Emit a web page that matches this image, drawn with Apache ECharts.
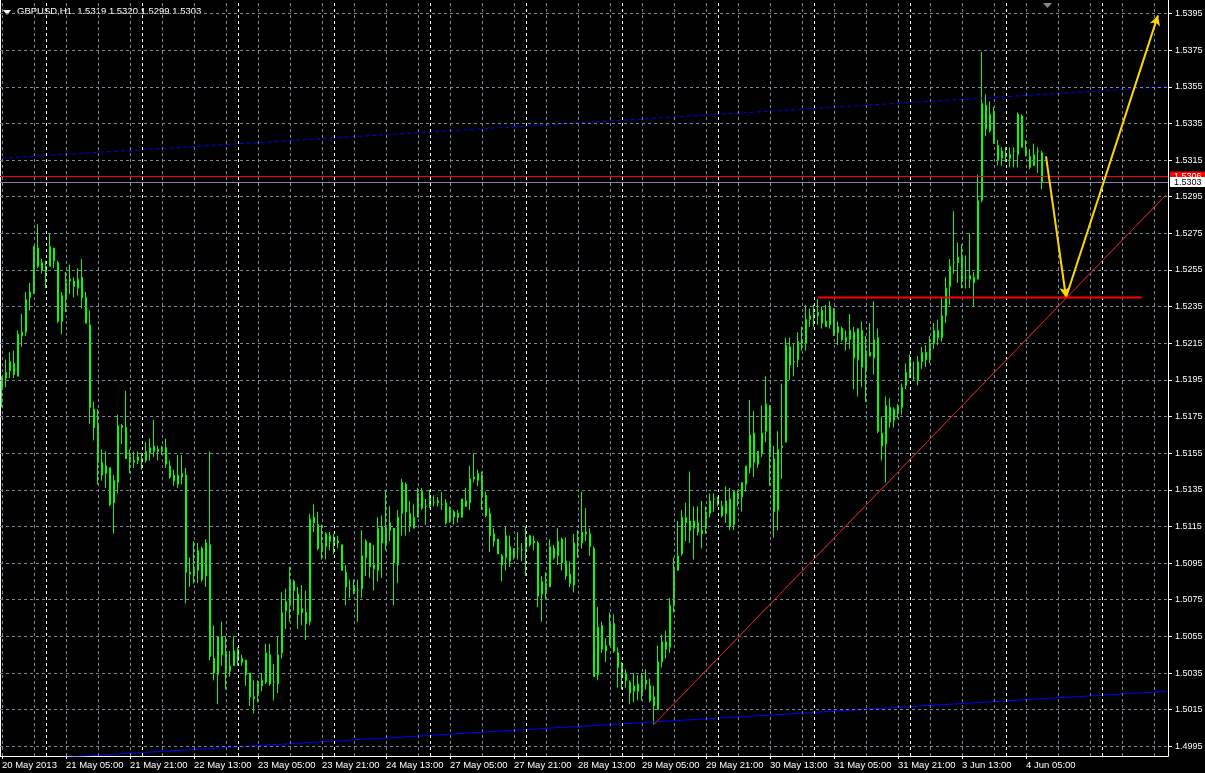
<!DOCTYPE html>
<html><head><meta charset="utf-8">
<script src="https://cdn.jsdelivr.net/npm/echarts@6/dist/echarts.min.js"></script>
<style>html,body{margin:0;padding:0;background:#000;}#c{width:1205px;height:773px;}</style>
</head><body><div id="c"></div>
<script>
const symbolName = 'GBPUSD,H1';
const opens = [1.5191,1.5196,1.5200,1.5204,1.5197,1.5219,1.5221,1.5240,1.5242,1.5267,
1.5259,1.5254,1.5257,1.5267,1.5259,1.5227,1.5240,1.5249,1.5249,1.5245,
1.5251,1.5240,1.5225,1.5179,1.5170,1.5150,1.5148,1.5147,1.5140,1.5139,
1.5170,1.5169,1.5153,1.5150,1.5151,1.5152,1.5151,1.5155,1.5156,1.5157,
1.5156,1.5158,1.5148,1.5143,1.5138,1.5142,1.5143,1.5090,1.5089,1.5091,
1.5103,1.5088,1.5105,1.5043,1.5034,1.5055,1.5046,1.5036,1.5039,1.5048,
1.5043,1.5042,1.5035,1.5022,1.5023,1.5028,1.5030,1.5045,1.5030,1.5029,
1.5046,1.5069,1.5073,1.5085,1.5078,1.5070,1.5068,1.5063,1.5120,1.5116,
1.5104,1.5104,1.5110,1.5106,1.5107,1.5105,1.5090,1.5081,1.5082,1.5080,
1.5081,1.5098,1.5106,1.5094,1.5091,1.5115,1.5105,1.5117,1.5114,1.5094,
1.5122,1.5138,1.5122,1.5114,1.5120,1.5134,1.5126,1.5126,1.5128,1.5129,
1.5127,1.5128,1.5118,1.5123,1.5122,1.5120,1.5129,1.5128,1.5142,1.5140,
1.5143,1.5132,1.5122,1.5111,1.5108,1.5099,1.5098,1.5104,1.5098,1.5103,
1.5102,1.5103,1.5110,1.5106,1.5106,1.5078,1.5080,1.5082,1.5103,1.5099,
1.5108,1.5096,1.5089,1.5083,1.5107,1.5106,1.5112,1.5111,1.5103,1.5034,
1.5061,1.5047,1.5050,1.5062,1.5046,1.5039,1.5035,1.5030,1.5025,1.5025,
1.5024,1.5031,1.5028,1.5022,1.5015,1.5041,1.5052,1.5049,1.5072,1.5091,
1.5100,1.5117,1.5118,1.5114,1.5117,1.5113,1.5114,1.5122,1.5130,1.5131,
1.5126,1.5122,1.5130,1.5116,1.5133,1.5131,1.5138,1.5147,1.5166,1.5156,
1.5155,1.5167,1.5181,1.5152,1.5124,1.5158,1.5161,1.5213,1.5205,1.5206,
1.5217,1.5215,1.5228,1.5231,1.5230,1.5233,1.5227,1.5225,1.5234,1.5224,
1.5223,1.5218,1.5217,1.5221,1.5206,1.5222,1.5201,1.5210,1.5207,1.5218,
1.5166,1.5160,1.5180,1.5173,1.5178,1.5180,1.5192,1.5207,1.5196,1.5195,
1.5205,1.5210,1.5206,1.5215,1.5222,1.5218,1.5230,1.5246,1.5259,1.5259,
1.5263,1.5251,1.5250,1.5248,1.5250,1.5293,1.5345,1.5340,1.5340,1.5323,
1.5316,1.5318,1.5318,1.5320,1.5318,1.5339,1.5321,1.5317,1.5312,1.5320,
1.5319];
const highs = [1.5197,1.5206,1.5210,1.5211,1.5222,1.5231,1.5243,1.5248,1.5268,1.5280,
1.5261,1.5260,1.5275,1.5267,1.5260,1.5243,1.5254,1.5258,1.5251,1.5256,
1.5261,1.5243,1.5233,1.5183,1.5179,1.5157,1.5156,1.5147,1.5143,1.5176,
1.5171,1.5189,1.5157,1.5156,1.5156,1.5155,1.5161,1.5163,1.5173,1.5159,
1.5159,1.5163,1.5151,1.5146,1.5154,1.5154,1.5147,1.5098,1.5107,1.5106,
1.5104,1.5108,1.5156,1.5061,1.5055,1.5063,1.5055,1.5047,1.5055,1.5049,
1.5045,1.5042,1.5035,1.5031,1.5031,1.5035,1.5051,1.5051,1.5040,1.5055,
1.5079,1.5081,1.5093,1.5086,1.5082,1.5083,1.5080,1.5122,1.5127,1.5123,
1.5116,1.5112,1.5112,1.5111,1.5110,1.5105,1.5094,1.5086,1.5086,1.5086,
1.5113,1.5108,1.5106,1.5105,1.5120,1.5121,1.5135,1.5126,1.5114,1.5124,
1.5141,1.5139,1.5129,1.5127,1.5136,1.5136,1.5130,1.5135,1.5132,1.5131,
1.5134,1.5130,1.5126,1.5124,1.5124,1.5130,1.5136,1.5148,1.5155,1.5146,
1.5145,1.5134,1.5125,1.5114,1.5108,1.5100,1.5115,1.5110,1.5103,1.5112,
1.5106,1.5115,1.5110,1.5110,1.5107,1.5088,1.5090,1.5108,1.5105,1.5114,
1.5109,1.5109,1.5096,1.5111,1.5113,1.5134,1.5125,1.5114,1.5104,1.5071,
1.5063,1.5054,1.5068,1.5067,1.5049,1.5041,1.5037,1.5031,1.5035,1.5034,
1.5035,1.5037,1.5032,1.5028,1.5050,1.5056,1.5058,1.5076,1.5098,1.5118,
1.5124,1.5128,1.5145,1.5126,1.5126,1.5129,1.5126,1.5133,1.5133,1.5131,
1.5129,1.5137,1.5136,1.5135,1.5135,1.5139,1.5148,1.5184,1.5178,1.5156,
1.5181,1.5197,1.5181,1.5159,1.5167,1.5193,1.5218,1.5218,1.5215,1.5221,
1.5224,1.5236,1.5234,1.5236,1.5239,1.5235,1.5236,1.5238,1.5234,1.5227,
1.5224,1.5222,1.5231,1.5224,1.5223,1.5227,1.5219,1.5226,1.5238,1.5223,
1.5175,1.5186,1.5185,1.5180,1.5182,1.5193,1.5204,1.5209,1.5205,1.5208,
1.5213,1.5214,1.5219,1.5226,1.5228,1.5240,1.5251,1.5261,1.5287,1.5270,
1.5269,1.5263,1.5275,1.5254,1.5307,1.5374,1.5351,1.5347,1.5344,1.5326,
1.5322,1.5322,1.5322,1.5322,1.5341,1.5340,1.5326,1.5321,1.5324,1.5322,
1.5320];
const lows = [1.5180,1.5191,1.5196,1.5196,1.5197,1.5213,1.5219,1.5233,1.5242,1.5256,
1.5253,1.5245,1.5257,1.5256,1.5226,1.5220,1.5232,1.5242,1.5240,1.5241,
1.5234,1.5226,1.5171,1.5162,1.5138,1.5140,1.5136,1.5126,1.5111,1.5133,
1.5160,1.5152,1.5144,1.5147,1.5149,1.5146,1.5150,1.5151,1.5153,1.5151,
1.5154,1.5147,1.5141,1.5137,1.5136,1.5138,1.5073,1.5082,1.5084,1.5084,
1.5085,1.5082,1.5042,1.5031,1.5018,1.5039,1.5026,1.5033,1.5039,1.5039,
1.5039,1.5028,1.5017,1.5013,1.5019,1.5025,1.5029,1.5028,1.5020,1.5024,
1.5043,1.5059,1.5063,1.5069,1.5059,1.5061,1.5053,1.5061,1.5112,1.5102,
1.5097,1.5097,1.5102,1.5100,1.5103,1.5091,1.5072,1.5076,1.5078,1.5063,
1.5076,1.5088,1.5087,1.5080,1.5085,1.5087,1.5102,1.5107,1.5072,1.5084,
1.5110,1.5110,1.5112,1.5114,1.5120,1.5124,1.5116,1.5125,1.5126,1.5126,
1.5124,1.5116,1.5117,1.5116,1.5117,1.5120,1.5126,1.5124,1.5139,1.5137,
1.5124,1.5120,1.5101,1.5104,1.5100,1.5085,1.5091,1.5093,1.5097,1.5097,
1.5096,1.5088,1.5104,1.5102,1.5071,1.5063,1.5075,1.5082,1.5097,1.5094,
1.5091,1.5086,1.5082,1.5079,1.5098,1.5103,1.5107,1.5099,1.5033,1.5031,
1.5046,1.5041,1.5050,1.5046,1.5027,1.5026,1.5027,1.5018,1.5019,1.5020,
1.5020,1.5026,1.5019,1.5007,1.5015,1.5038,1.5043,1.5046,1.5068,1.5091,
1.5099,1.5107,1.5106,1.5097,1.5110,1.5103,1.5111,1.5120,1.5123,1.5126,
1.5120,1.5117,1.5113,1.5113,1.5126,1.5123,1.5134,1.5144,1.5142,1.5147,
1.5153,1.5161,1.5137,1.5109,1.5113,1.5141,1.5161,1.5195,1.5197,1.5202,
1.5211,1.5211,1.5224,1.5224,1.5225,1.5223,1.5224,1.5223,1.5219,1.5214,
1.5216,1.5211,1.5212,1.5190,1.5186,1.5191,1.5183,1.5208,1.5198,1.5166,
1.5151,1.5139,1.5169,1.5169,1.5174,1.5176,1.5190,1.5196,1.5195,1.5192,
1.5201,1.5202,1.5204,1.5212,1.5214,1.5216,1.5226,1.5236,1.5253,1.5248,
1.5245,1.5245,1.5245,1.5235,1.5250,1.5292,1.5328,1.5330,1.5324,1.5312,
1.5312,1.5314,1.5311,1.5311,1.5311,1.5322,1.5317,1.5310,1.5312,1.5308,
1.5299];
const closes = [1.5196,1.5199,1.5205,1.5198,1.5220,1.5221,1.5239,1.5243,1.5268,1.5257,
1.5255,1.5257,1.5268,1.5260,1.5227,1.5241,1.5248,1.5250,1.5246,1.5250,
1.5240,1.5226,1.5180,1.5169,1.5150,1.5143,1.5144,1.5127,1.5128,1.5170,
1.5169,1.5152,1.5150,1.5151,1.5153,1.5151,1.5156,1.5158,1.5159,1.5156,
1.5157,1.5149,1.5142,1.5140,1.5143,1.5144,1.5090,1.5089,1.5091,1.5102,
1.5086,1.5106,1.5044,1.5035,1.5055,1.5045,1.5035,1.5039,1.5047,1.5042,
1.5041,1.5034,1.5022,1.5021,1.5029,1.5031,1.5046,1.5029,1.5030,1.5045,
1.5068,1.5074,1.5086,1.5080,1.5067,1.5068,1.5062,1.5119,1.5117,1.5103,
1.5103,1.5111,1.5107,1.5108,1.5106,1.5091,1.5082,1.5081,1.5079,1.5080,
1.5099,1.5107,1.5093,1.5092,1.5114,1.5106,1.5115,1.5113,1.5095,1.5120,
1.5139,1.5123,1.5115,1.5120,1.5133,1.5125,1.5126,1.5131,1.5128,1.5128,
1.5127,1.5117,1.5124,1.5120,1.5120,1.5130,1.5126,1.5141,1.5141,1.5144,
1.5131,1.5121,1.5110,1.5107,1.5100,1.5094,1.5110,1.5096,1.5103,1.5103,
1.5102,1.5109,1.5105,1.5107,1.5077,1.5085,1.5084,1.5104,1.5098,1.5107,
1.5095,1.5088,1.5084,1.5106,1.5107,1.5112,1.5111,1.5104,1.5033,1.5060,
1.5048,1.5050,1.5063,1.5047,1.5038,1.5034,1.5031,1.5024,1.5028,1.5029,
1.5032,1.5029,1.5020,1.5017,1.5041,1.5052,1.5048,1.5072,1.5091,1.5099,
1.5120,1.5120,1.5113,1.5118,1.5112,1.5111,1.5123,1.5129,1.5130,1.5127,
1.5121,1.5129,1.5115,1.5134,1.5130,1.5139,1.5148,1.5165,1.5150,1.5149,
1.5166,1.5182,1.5153,1.5123,1.5157,1.5159,1.5214,1.5203,1.5205,1.5216,
1.5215,1.5228,1.5230,1.5231,1.5232,1.5226,1.5224,1.5235,1.5220,1.5221,
1.5217,1.5216,1.5222,1.5207,1.5223,1.5202,1.5211,1.5208,1.5217,1.5167,
1.5159,1.5181,1.5172,1.5179,1.5181,1.5191,1.5199,1.5197,1.5196,1.5205,
1.5210,1.5206,1.5215,1.5222,1.5218,1.5230,1.5245,1.5257,1.5259,1.5262,
1.5250,1.5251,1.5252,1.5251,1.5293,1.5346,1.5332,1.5331,1.5324,1.5315,
1.5320,1.5317,1.5316,1.5320,1.5340,1.5322,1.5318,1.5311,1.5318,1.5320,
1.5303];

// time axis: one slot per H1 bar, incl. empty future slots (chart shift)
const slotCount = 292;
const timeTicks = ['20 May 2013','21 May 05:00','21 May 21:00','22 May 13:00','23 May 05:00',
  '23 May 21:00','24 May 13:00','27 May 05:00','27 May 21:00','28 May 13:00','29 May 05:00',
  '29 May 21:00','30 May 13:00','31 May 05:00','31 May 21:00','3 Jun 13:00','4 Jun 05:00'];
const tickStep = 16;
const gridStep = 8;
const daySeparators = [11,35,59,83,107,131,155,179,203,227,251,275];
const priceTicks = [1.4995,1.5015,1.5035,1.5055,1.5075,1.5095,1.5115,1.5135,1.5155,1.5175,
  1.5195,1.5215,1.5235,1.5255,1.5275,1.5295,1.5315,1.5335,1.5355,1.5375,1.5395];
const yMin = 1.49897, yMax = 1.54024;
const bidPrice = 1.5303;
const askPrice = 1.5306;

// drawn objects: [bar index, price]
const channelUpper = [[0,1.5316],[291,1.5355]];
const channelLower = [[0,1.4987],[291,1.5025]];
const trendLine = [[163,1.5007],[291,1.5296]];
const supportLine = [[204,1.5240],[285,1.5240]];
const arrowDown = [[261,1.5317],[266,1.5240]];
const arrowUp = [[266,1.5240],[289,1.5394]];

const FONT = 'Liberation Sans';
const slots = Array.from({length: slotCount}, (_, i) => i);
const candles = opens.map((o, i) => [o, closes[i], lows[i], highs[i]]);
const n = opens.length;
const showTick = (i) => i % tickStep === 0 && i / tickStep < timeTicks.length;
const gridCols = slots.filter(i => i % gridStep === 0);

const chart = echarts.init(document.getElementById('c'), null, {renderer: 'canvas', width: 1205, height: 773});
chart.setOption({
  backgroundColor: '#000000',
  animation: false,
  grid: {left: 0, right: 37, top: 0, bottom: 17, containLabel: false, outerBoundsMode: 'none'},
  xAxis: {
    type: 'category', data: slots, boundaryGap: true,
    axisLine: {show: true, lineStyle: {color: '#ffffff', width: 1}},
    axisTick: {show: true, alignWithLabel: true, interval: (i) => showTick(i), length: 3, lineStyle: {color: '#ffffff'}},
    axisLabel: {show: true, interval: (i) => showTick(i), formatter: (v, i) => showTick(i) ? timeTicks[i / tickStep] : '',
      color: '#ffffff', fontSize: 9.5, fontFamily: FONT, align: 'left', margin: 4},
    splitLine: {show: false}
  },
  yAxis: [{
    type: 'value', position: 'right', min: yMin, max: yMax, scale: true,
    axisLine: {show: true, lineStyle: {color: '#ffffff'}},
    axisTick: {show: true, customValues: priceTicks, length: 4, lineStyle: {color: '#ffffff'}},
    axisLabel: {show: true, customValues: priceTicks, formatter: (v) => v.toFixed(4), color: '#ffffff', fontSize: 9, fontFamily: FONT, margin: 7},
    splitLine: {show: false}
  }, {
    type: 'value', position: 'left', min: yMin, max: yMax, scale: true,
    axisLine: {show: true, onZero: false, lineStyle: {color: '#ffffff'}},
    axisTick: {show: false}, axisLabel: {show: false}, splitLine: {show: false}
  }],
  graphic: [
    {type: 'polygon', shape: {points: [[3, 10], [11, 10], [7, 15]]}, style: {fill: '#ffffff'}},
    {type: 'text', left: 17, top: 6, style: {text: symbolName + '  ' + [opens[n-1], highs[n-1], lows[n-1], closes[n-1]].map(v => v.toFixed(4)).join(' '),
      fill: '#ffffff', font: '9.5px "' + FONT + '"'}},
    {type: 'polygon', shape: {points: [[1043, 3], [1052, 3], [1047.5, 8]]}, style: {fill: '#8a8a8a'}}
  ],
  series: [
    {type: 'line', name: 'grid', data: [], z: 1, silent: true,
      markLine: {silent: true, precision: 6, symbol: ['none', 'none'], animation: false, label: {show: false},
        lineStyle: {color: '#778899', width: 1, type: [3, 3]},
        data: priceTicks.map(p => ({yAxis: p})).concat(gridCols.map(i => ({xAxis: i})))}},
    {type: 'line', name: 'separators', data: [], z: 1, silent: true,
      markLine: {silent: true, precision: 6, symbol: ['none', 'none'], animation: false, label: {show: false},
        lineStyle: {color: '#ffffff', width: 1, type: [3, 3]},
        data: daySeparators.map(i => ({xAxis: i}))}},
    {type: 'candlestick', name: symbolName, data: candles, z: 2, barWidth: 2, silent: true,
      itemStyle: {color: '#000000', color0: '#ffffff', borderColor: '#00ff00', borderColor0: '#00ff00', borderColorDoji: '#00ff00', borderWidth: 1}},
    {type: 'line', name: 'bidask', data: [], z: 3, silent: true,
      markLine: {silent: true, precision: 6, symbol: ['none', 'none'], animation: false,
        data: [
          {yAxis: askPrice, lineStyle: {color: '#ff0000', width: 1, type: 'solid'},
            label: {show: true, position: 'end', distance: 2, formatter: askPrice.toFixed(4), color: '#ffffff', backgroundColor: '#ff0000',
              padding: [1, 8, 0, 4], fontSize: 9, fontFamily: FONT}},
          {yAxis: bidPrice, lineStyle: {color: '#778899', width: 1, type: 'solid'},
            label: {show: true, position: 'end', distance: 2, formatter: bidPrice.toFixed(4), color: '#000000', backgroundColor: '#ffffff',
              padding: [1, 8, 0, 4], fontSize: 9, fontFamily: FONT}}
        ]}},
    {type: 'line', name: 'channelUpper', data: channelUpper, z: 4, silent: true, showSymbol: false, symbol: 'none',
      lineStyle: {color: '#0000ff', width: 1, type: [4, 3]}},
    {type: 'line', name: 'channelLower', data: channelLower, z: 4, silent: true, showSymbol: false, symbol: 'none',
      lineStyle: {color: '#0000ff', width: 1}},
    {type: 'line', name: 'trendBase', data: trendLine, z: 4, silent: true, showSymbol: false, symbol: 'none',
      lineStyle: {color: '#606060', width: 1}},
    {type: 'line', name: 'trend', data: trendLine, z: 5, silent: true, showSymbol: false, symbol: 'none',
      lineStyle: {color: '#ff0000', width: 1, type: [4, 1]}},
    {type: 'line', name: 'support', data: supportLine, z: 5, silent: true, showSymbol: false, symbol: 'none',
      lineStyle: {color: '#ff0000', width: 2}},
    {type: 'line', name: 'arrows', data: [], z: 6, silent: true,
      markLine: {silent: true, precision: 6, animation: false, symbol: ['none', 'arrow'], symbolSize: [8, 10], label: {show: false},
        lineStyle: {color: '#ffd700', width: 2, type: 'solid'},
        data: [
          [{coord: arrowDown[0]}, {coord: arrowDown[1]}],
          [{coord: arrowUp[0]}, {coord: arrowUp[1]}]
        ]}}
  ]
});
</script>
</body></html>
